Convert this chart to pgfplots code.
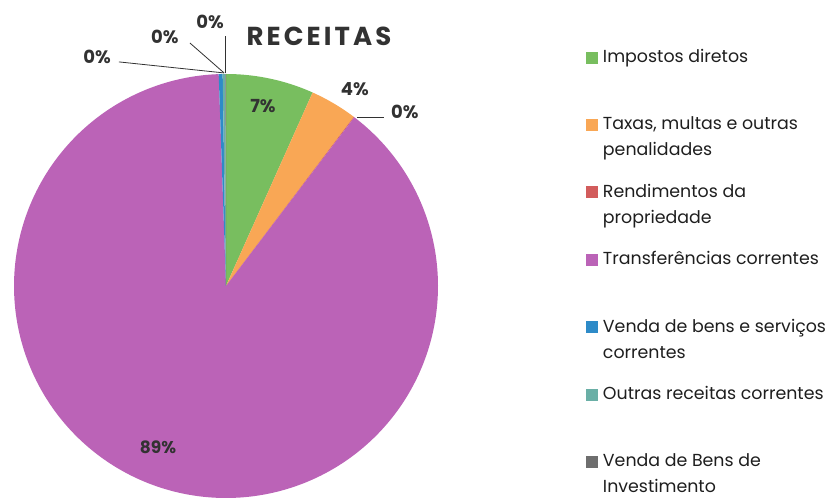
\documentclass[border=0pt]{standalone}
\usepackage{pgfplots}
\pgfplotsset{compat=1.18}
\usepackage{pgfplotstable}
\usepackage{fontspec}
\setmainfont{Poppins}
\definecolor{cGreen}{RGB}{120,190,95}
\definecolor{cOrange}{RGB}{249,167,85}
\definecolor{cRed}{RGB}{210,92,92}
\definecolor{cPurple}{RGB}{187,99,183}
\definecolor{cBlue}{RGB}{46,139,200}
\definecolor{cTeal}{RGB}{106,175,166}
\definecolor{cGrey}{RGB}{110,110,110}
\definecolor{cText}{RGB}{30,30,30}
\definecolor{cLab}{RGB}{50,50,50}

\pgfplotstableread[col sep=semicolon]{
cat;value
Impostos diretos;6.7
Taxas, multas e outras penalidades;3.6
Rendimentos da propriedade;0.05
Transferências correntes;89.1
Venda de bens e serviços correntes;0.3
Outras receitas correntes;0.2
Venda de Bens de Investimento;0.05
}\receitas

\pgfplotstablegetelem{0}{value}\of\receitas\edef\vA{\pgfplotsretval}
\pgfplotstablegetelem{1}{value}\of\receitas\edef\vB{\pgfplotsretval}
\pgfplotstablegetelem{2}{value}\of\receitas\edef\vC{\pgfplotsretval}
\pgfplotstablegetelem{3}{value}\of\receitas\edef\vD{\pgfplotsretval}
\pgfplotstablegetelem{4}{value}\of\receitas\edef\vE{\pgfplotsretval}
\pgfplotstablegetelem{5}{value}\of\receitas\edef\vF{\pgfplotsretval}
\pgfplotstablegetelem{6}{value}\of\receitas\edef\vG{\pgfplotsretval}

\pgfmathsetmacro{\aA}{90}
\pgfmathsetmacro{\aB}{\aA-3.6*\vA}
\pgfmathsetmacro{\aC}{\aB-3.6*\vB}
\pgfmathsetmacro{\aD}{\aC-3.6*\vC}
\pgfmathsetmacro{\aE}{\aD-3.6*\vD}
\pgfmathsetmacro{\aF}{\aE-3.6*\vE}
\pgfmathsetmacro{\aG}{\aF-3.6*\vF}
\pgfmathsetmacro{\aH}{\aG-3.6*\vG}

\newcommand\legtext[1]{\hspace{3pt}\parbox[t]{250pt}{#1}}

\begin{document}
\begin{tikzpicture}
\useasboundingbox (0,0) rectangle (840pt,500pt);
\begin{axis}[
  hide axis, scale only axis, width=424pt, height=424pt,
  xmin=-1, xmax=1, ymin=-1, ymax=1,
  at={(226pt,214pt)}, anchor=center, clip=false,
  legend style={at={(axis description cs:1.349,1.062)}, anchor=north west,
    draw=none, fill=none, inner sep=0pt, outer sep=0pt, row sep=48.66pt,
    font=\fontsize{17.4}{26}\selectfont, text=cText,
    cells={anchor=base west},
    /tikz/every even column/.append style={column sep=0pt}},
  legend image code/.code={\fill[#1] (0pt,-1pt) rectangle (12pt,11pt);},
]
\addplot[draw=none, fill=cGreen, domain=\aB:\aA, samples=60] ({cos(x)},{sin(x)}) -- (axis cs:0,0) -- cycle;
\addlegendentry{\legtext{Impostos diretos}}
\addplot[draw=none, fill=cOrange, domain=\aC:\aB, samples=40] ({cos(x)},{sin(x)}) -- (axis cs:0,0) -- cycle;
\addlegendentry{\legtext{Taxas, multas e outras\\penalidades}}
\addplot[draw=none, fill=cRed, domain=\aD:\aC, samples=2] ({cos(x)},{sin(x)}) -- (axis cs:0,0) -- cycle;
\addlegendentry{\legtext{Rendimentos da\\propriedade}}
\addplot[draw=none, fill=cPurple, domain=\aE:\aD, samples=360] ({cos(x)},{sin(x)}) -- (axis cs:0,0) -- cycle;
\addlegendentry{\legtext{Transferências correntes}}
\addplot[draw=none, fill=cBlue, domain=\aF:\aE, samples=3] ({cos(x)},{sin(x)}) -- (axis cs:0,0) -- cycle;
\addlegendentry{\legtext{Venda de bens e serviços\\correntes}}
\addplot[draw=none, fill=cTeal, domain=\aG:\aF, samples=3] ({cos(x)},{sin(x)}) -- (axis cs:0,0) -- cycle;
\addlegendentry{\legtext{Outras receitas correntes}}
\addplot[draw=none, fill=cGrey, domain=\aH:\aG, samples=2] ({cos(x)},{sin(x)}) -- (axis cs:0,0) -- cycle;
\addlegendentry{\legtext{Venda de Bens de\\Investimento}}

% title
\node[font=\fontsize{26}{30}\selectfont\bfseries\addfontfeature{LetterSpace=12}, text=cLab] at (axis cs:0.4387,1.177) {RECEITAS};
% labels
\node[font=\fontsize{18}{20}\selectfont\bfseries, text=cLab] at (axis cs:0.1745,0.849) {7\%};
\node[font=\fontsize{18}{20}\selectfont\bfseries, text=cLab] at (axis cs:0.608,0.929) {4\%};
\node[font=\fontsize{18}{20}\selectfont\bfseries, text=cLab] at (axis cs:0.844,0.821) {0\%};
\node[font=\fontsize{18}{20}\selectfont\bfseries, text=cLab] at (axis cs:-0.608,1.080) {0\%};
\node[font=\fontsize{18}{20}\selectfont\bfseries, text=cLab] at (axis cs:-0.288,1.175) {0\%};
\node[font=\fontsize{18}{20}\selectfont\bfseries, text=cLab] at (axis cs:-0.0755,1.245) {0\%};
\node[font=\fontsize{17}{20}\selectfont\bfseries, text=cLab] at (axis cs:-0.321,-0.759) {89\%};
% leader lines
\draw[cLab, line width=0.8pt] (axis cs:0.618,0.797) -- (axis cs:0.745,0.797);
\draw[cLab, line width=0.8pt] (axis cs:-0.505,1.057) -- (axis cs:-0.009,1.005);
\draw[cLab, line width=0.8pt] (axis cs:-0.170,1.146) -- (axis cs:-0.009,1.005);
\draw[cLab, line width=0.8pt] (axis cs:-0.005,1.179) -- (axis cs:-0.005,1.005);
\end{axis}
\end{tikzpicture}
\end{document}
